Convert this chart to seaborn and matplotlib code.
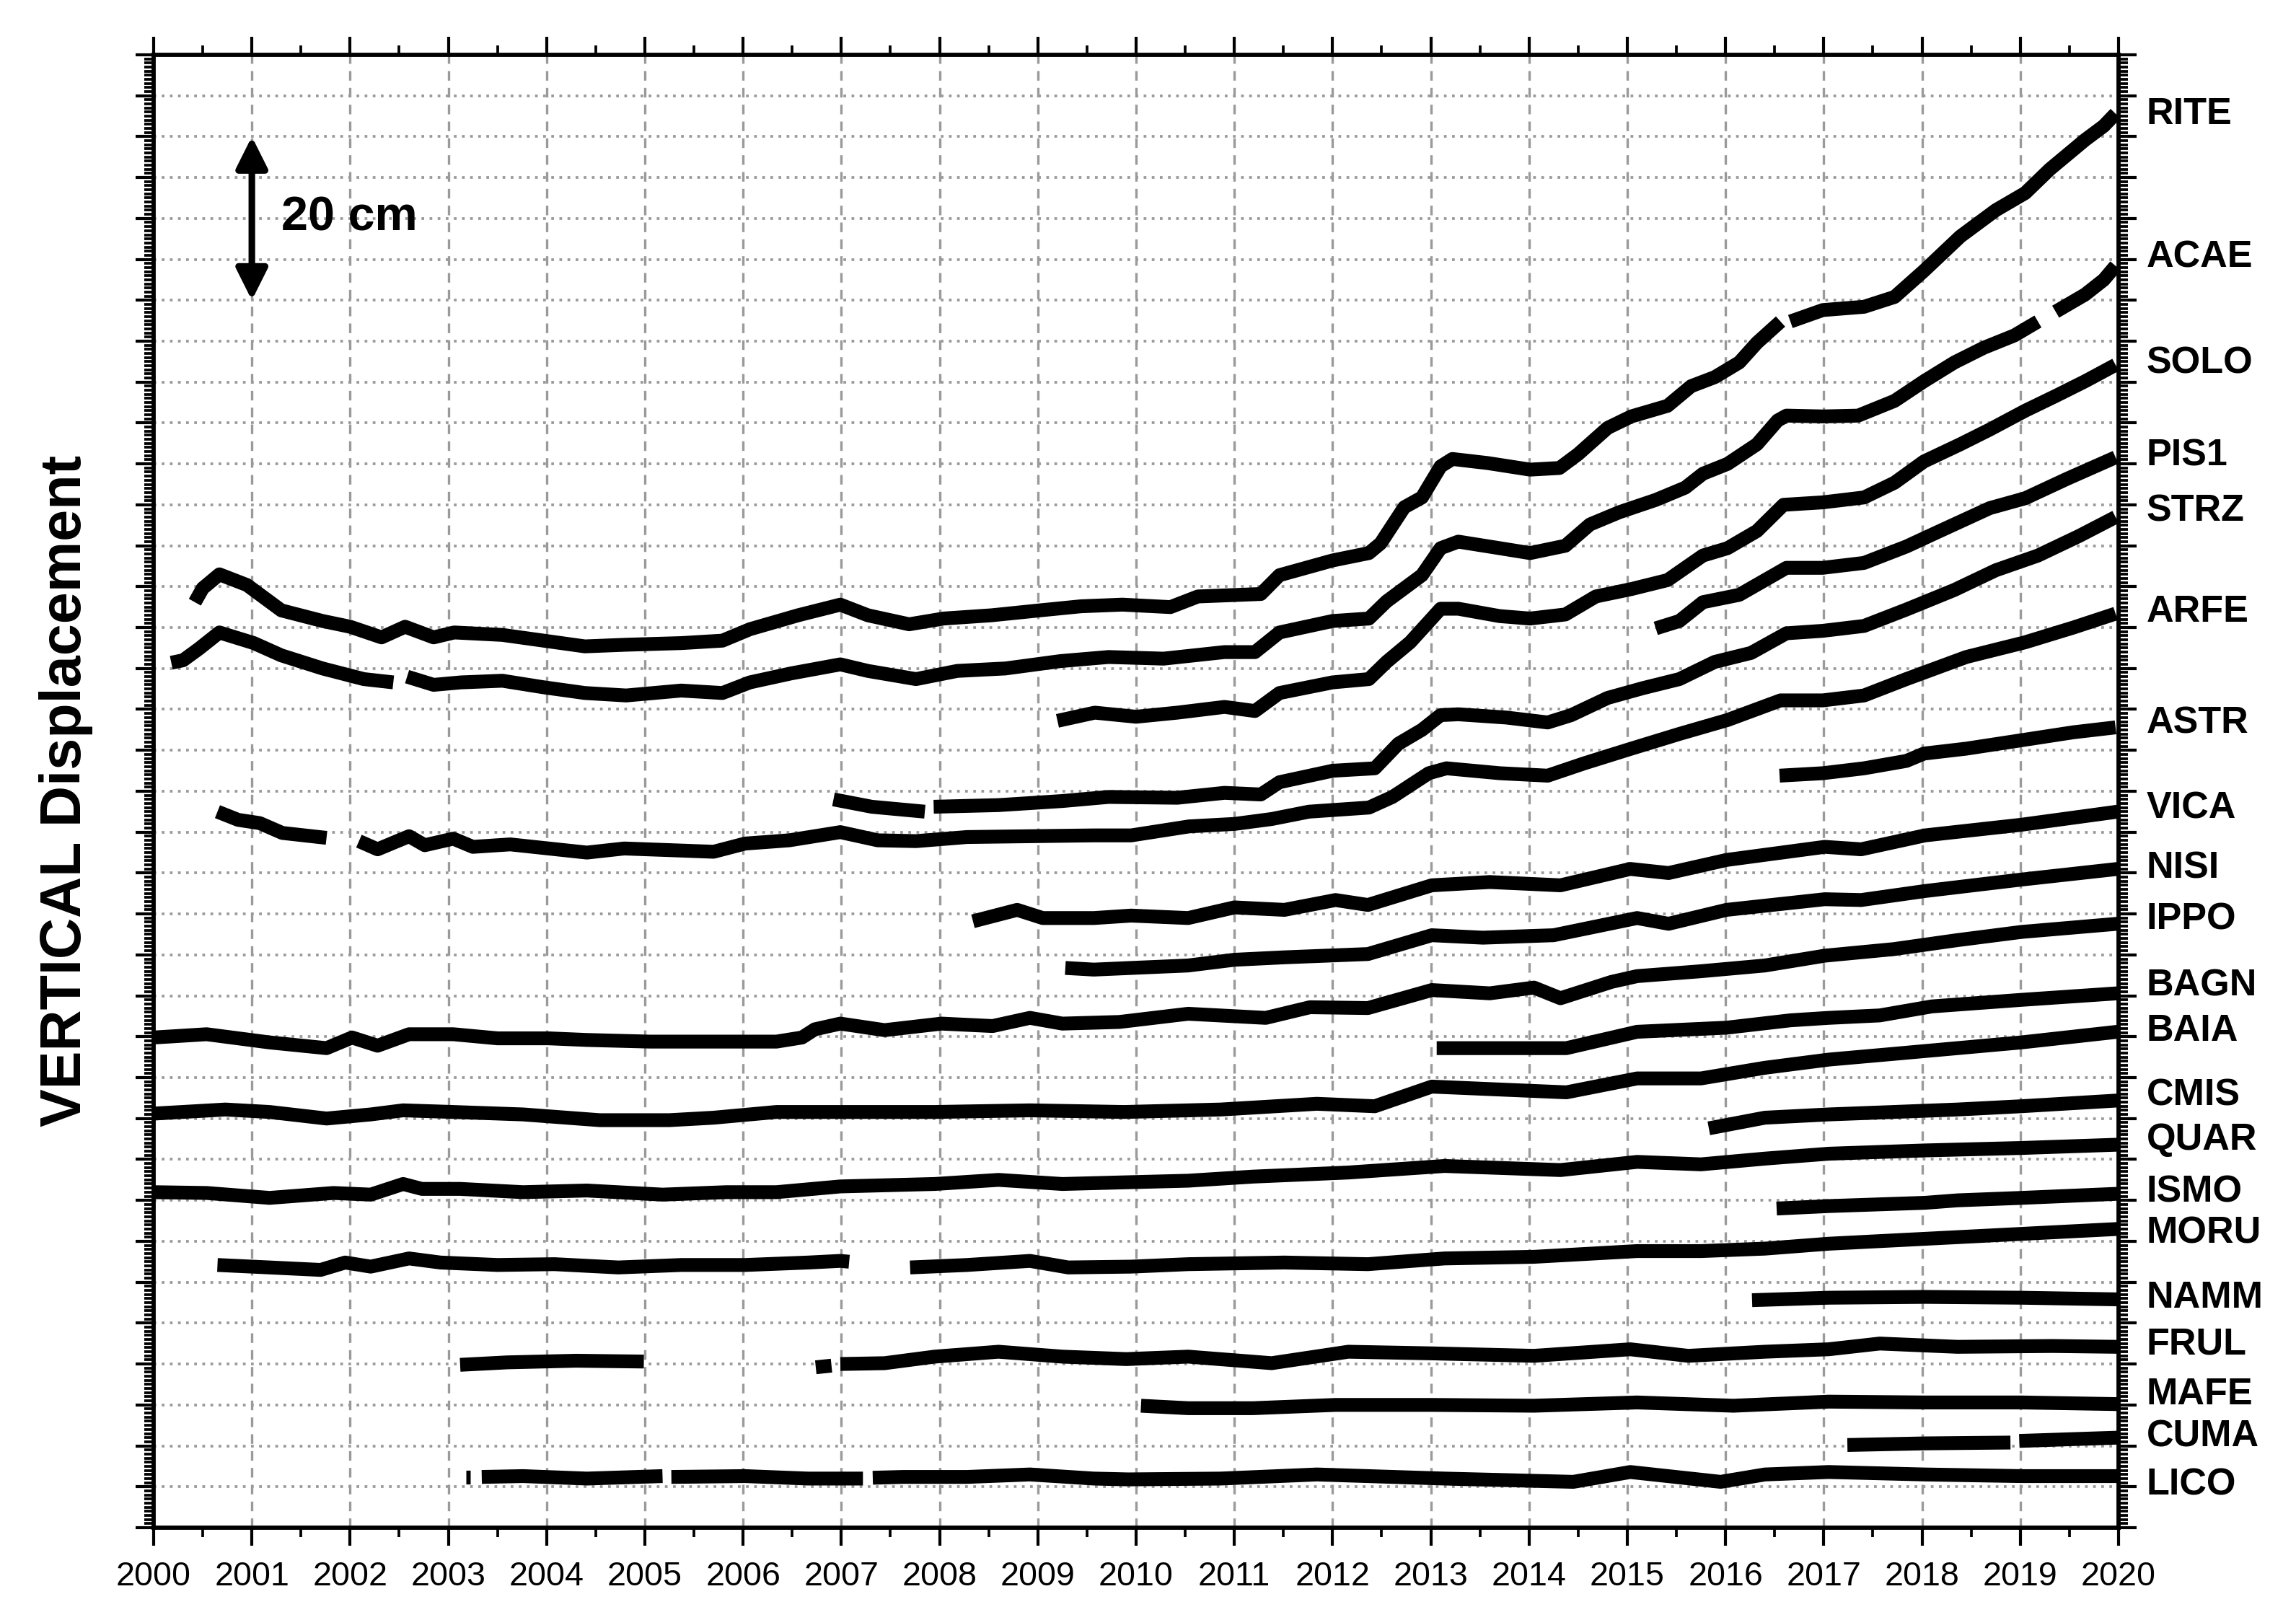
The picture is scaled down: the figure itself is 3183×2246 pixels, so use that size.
import matplotlib
matplotlib.use("Agg")
import matplotlib.pyplot as plt
import matplotlib.transforms as mtransforms
from matplotlib.ticker import MultipleLocator
import seaborn as sns
import pandas as pd

# station order (top -> bottom) and the level of the name tag on the right
stations = ["RITE", "ACAE", "SOLO", "PIS1", "STRZ", "ARFE", "ASTR", "VICA", "NISI", "IPPO",
            "BAGN", "BAIA", "CMIS", "QUAR", "ISMO", "MORU", "NAMM", "FRUL", "MAFE", "CUMA", "LICO"]
label_y = [172.7, 155.2, 142.3, 131.0, 124.2, 111.9, 98.3, 87.9, 80.6, 74.3,
           66.2, 60.7, 52.8, 47.4, 41.0, 36.0, 28.1, 22.4, 16.3, 11.1, 5.2]

# vertical position (cm, stacked with offsets); None = data gap
rite_t = [2000.42, 2000.5, 2000.67, 2000.95, 2001.3, 2001.72, 2002.0, 2002.32, 2002.56, 2002.85,
          2003.06, 2003.55, 2003.97, 2004.39, 2004.81, 2005.37, 2005.79, 2006.07, 2006.56, 2006.99,
          2007.27, 2007.69, 2008.04, 2008.53, 2009.02, 2009.44, 2009.86, 2010.35, 2010.63, 2011.27,
          2011.46, 2012.0, 2012.37, 2012.49, 2012.73, 2012.91, 2013.1, 2013.22, 2013.58, 2014.01,
          2014.31, 2014.5, 2014.8, 2015.04, 2015.41, 2015.65, 2015.89, 2016.14, 2016.32, 2016.56,
          None, 2016.66, 2016.99, 2017.41, 2017.72, 2018.02, 2018.39, 2018.75, 2019.05, 2019.3,
          2019.66, 2019.85, 2019.97]
rite_v = [113.1, 114.8, 116.5, 115.2, 112.1, 110.8, 110.1, 108.8, 110.1, 108.8,
          109.4, 109.1, 108.4, 107.7, 107.9, 108.1, 108.4, 109.8, 111.5, 112.8,
          111.5, 110.4, 111.1, 111.5, 112.1, 112.6, 112.8, 112.5, 113.8, 114.1,
          116.4, 118.2, 119.1, 120.3, 124.7, 125.9, 129.7, 130.6, 130.1, 129.3,
          129.5, 131.2, 134.4, 135.8, 137.1, 139.5, 140.6, 142.4, 144.8, 147.4,
          None, 147.4, 148.8, 149.2, 150.4, 153.6, 157.8, 161.0, 163.1, 166.0,
          169.6, 171.3, 172.8]

acae_t = [2000.18, 2000.3, 2000.46, 2000.67, 2001.02, 2001.3, 2001.72, 2002.14, 2002.44, None,
          2002.58, 2002.85, 2003.13, 2003.55, 2003.97, 2004.39, 2004.81, 2005.37, 2005.79, 2006.07,
          2006.49, 2006.99, 2007.27, 2007.76, 2008.18, 2008.67, 2009.23, 2009.72, 2010.28, 2010.9,
          2011.21, 2011.46, 2012.0, 2012.37, 2012.55, 2012.91, 2013.1, 2013.28, 2013.7, 2014.01,
          2014.37, 2014.62, 2014.92, 2015.29, 2015.59, 2015.77, 2016.02, 2016.32, 2016.53, 2016.62,
          2016.99, 2017.35, 2017.72, 2018.02, 2018.33, 2018.63, 2018.94, 2019.18, None, 2019.36,
          2019.66, 2019.85, 2019.97]
acae_v = [105.7, 106.0, 107.4, 109.4, 108.1, 106.6, 105.0, 103.7, 103.3, None,
          104.0, 103.0, 103.3, 103.5, 102.7, 102.0, 101.7, 102.3, 102.0, 103.3,
          104.4, 105.5, 104.7, 103.7, 104.7, 105.0, 105.9, 106.4, 106.2, 107.0,
          107.0, 109.4, 110.8, 111.1, 113.2, 116.4, 119.7, 120.5, 119.7, 119.1,
          120.0, 122.6, 124.1, 125.6, 127.1, 128.8, 130.0, 132.4, 135.3, 135.9,
          135.8, 135.9, 137.7, 140.1, 142.4, 144.2, 145.7, 147.4, None, 148.6,
          150.7, 152.5, 154.2]

solo_t = [2009.2, 2009.58, 2010.0, 2010.42, 2010.9, 2011.21, 2011.46, 2012.0, 2012.37, 2012.55,
          2012.79, 2013.1, 2013.28, 2013.7, 2014.01, 2014.37, 2014.68, 2015.04, 2015.41, 2015.77,
          2016.02, 2016.32, 2016.59, 2016.99, 2017.41, 2017.72, 2018.02, 2018.39, 2018.69, 2019.05,
          2019.36, 2019.66, 2019.97]
solo_v = [98.6, 99.6, 99.1, 99.6, 100.3, 99.8, 102.0, 103.3, 103.7, 105.8,
          108.2, 112.3, 112.3, 111.4, 111.1, 111.6, 113.8, 114.7, 115.8, 118.8,
          119.7, 121.8, 125.0, 125.3, 125.9, 127.7, 130.3, 132.4, 134.2, 136.5,
          138.3, 140.1, 142.1]

pis1_t = [2015.29, 2015.53, 2015.77, 2016.14, 2016.62, 2016.99, 2017.41, 2017.84, 2018.2, 2018.69,
          2019.05, 2019.48, 2019.97]
pis1_v = [109.9, 110.8, 113.1, 114.0, 117.3, 117.3, 117.9, 119.9, 121.9, 124.6,
          125.8, 128.2, 130.8]

strz_t = [2006.92, 2007.31, 2007.85, None, 2007.94, 2008.6, 2009.25, 2009.72, 2010.42, 2010.9,
          2011.27, 2011.46, 2012.0, 2012.43, 2012.67, 2012.91, 2013.1, 2013.28, 2013.77, 2014.19,
          2014.43, 2014.8, 2015.16, 2015.53, 2015.89, 2016.26, 2016.62, 2016.99, 2017.41, 2017.84,
          2018.33, 2018.75, 2019.18, 2019.6, 2019.97]
strz_v = [89.0, 88.1, 87.5, None, 88.1, 88.3, 88.8, 89.3, 89.2, 89.8,
          89.6, 91.1, 92.5, 92.8, 95.8, 97.5, 99.3, 99.4, 99.0, 98.4,
          99.3, 101.4, 102.6, 103.7, 105.8, 106.9, 109.3, 109.6, 110.2, 112.2,
          114.6, 117.0, 118.8, 121.2, 123.5]

arfe_t = [2000.65, 2000.86, 2001.08, 2001.31, 2001.76, None, 2002.09, 2002.28, 2002.6, 2002.76,
          2003.05, 2003.25, 2003.63, 2004.02, 2004.41, 2004.79, 2005.25, 2005.7, 2006.02, 2006.47,
          2006.99, 2007.37, 2007.76, 2008.28, 2008.92, 2009.57, 2009.95, 2010.54, 2011.0, 2011.38,
          2011.76, 2012.37, 2012.61, 2012.98, 2013.16, 2013.7, 2014.19, 2014.56, 2015.04, 2015.53,
          2016.02, 2016.56, 2016.99, 2017.41, 2017.84, 2018.45, 2019.05, 2019.54, 2019.97]
arfe_v = [87.5, 86.5, 86.1, 84.9, 84.3, None, 83.9, 82.9, 84.5, 83.4,
          84.2, 83.2, 83.5, 83.0, 82.5, 83.0, 82.8, 82.6, 83.6, 84.0,
          85.0, 84.0, 83.9, 84.4, 84.5, 84.6, 84.6, 85.7, 86.0, 86.6,
          87.5, 88.0, 89.3, 92.2, 92.8, 92.2, 91.9, 93.4, 95.2, 97.0,
          98.7, 101.1, 101.1, 101.7, 103.7, 106.4, 108.2, 110.0, 111.7]

astr_t = [2016.55, 2016.99, 2017.41, 2017.84, 2018.02, 2018.45, 2019.05, 2019.54, 2019.97]
astr_v = [91.9, 92.2, 92.8, 93.7, 94.6, 95.2, 96.3, 97.2, 97.8]

vica_t = [2008.34, 2008.79, 2009.05, 2009.57, 2009.95, 2010.53, 2011.0, 2011.51, 2012.03, 2012.36,
          2013.01, 2013.6, 2014.32, 2015.03, 2015.42, 2016.01, 2017.01, 2017.38, 2018.03, 2019.01,
          2019.99]
vica_v = [74.1, 75.5, 74.5, 74.5, 74.8, 74.5, 75.8, 75.5, 76.7, 76.1,
          78.5, 78.9, 78.5, 80.5, 80.0, 81.6, 83.2, 82.9, 84.6, 85.9,
          87.5]

nisi_t = [2009.28, 2009.57, 2009.95, 2010.53, 2011.0, 2011.51, 2012.36, 2013.01, 2013.53, 2014.25,
          2015.1, 2015.42, 2016.01, 2017.01, 2017.38, 2018.03, 2019.01, 2019.99]
nisi_v = [68.4, 68.2, 68.4, 68.7, 69.4, 69.7, 70.1, 72.4, 72.1, 72.4,
          74.5, 73.8, 75.5, 76.8, 76.7, 77.8, 79.2, 80.5]

ippo_t = [2000.0, 2000.54, 2001.18, 2001.76, 2002.02, 2002.28, 2002.6, 2003.05, 2003.5, 2004.02,
          2004.41, 2005.05, 2005.7, 2006.34, 2006.6, 2006.73, 2006.99, 2007.44, 2008.02, 2008.54,
          2008.92, 2009.25, 2009.83, 2010.53, 2011.32, 2011.77, 2012.36, 2013.01, 2013.6, 2014.05,
          2014.32, 2014.84, 2015.1, 2015.75, 2016.4, 2017.01, 2017.71, 2018.36, 2019.01, 2019.99]
ippo_v = [59.9, 60.3, 59.3, 58.6, 59.9, 58.9, 60.3, 60.3, 59.8, 59.8,
          59.6, 59.4, 59.4, 59.4, 59.9, 60.9, 61.6, 60.8, 61.6, 61.3,
          62.3, 61.6, 61.8, 62.8, 62.3, 63.6, 63.5, 65.7, 65.3, 66.0,
          64.7, 66.7, 67.4, 68.0, 68.7, 69.9, 70.7, 71.8, 72.8, 73.8]

bagn_t = [2013.06, 2013.47, 2014.38, 2015.1, 2016.01, 2016.66, 2017.05, 2017.57, 2018.1, 2019.01,
          2019.99]
bagn_v = [58.6, 58.6, 58.6, 60.6, 61.1, 62.0, 62.3, 62.6, 63.7, 64.5,
          65.3]

baia_t = [2000.0, 2000.73, 2001.18, 2001.76, 2002.21, 2002.54, 2003.05, 2003.76, 2004.54, 2005.25,
          2005.7, 2006.34, 2006.99, 2007.95, 2008.92, 2009.88, 2010.86, 2011.84, 2012.43, 2013.01,
          2013.79, 2014.38, 2015.1, 2015.75, 2016.4, 2017.05, 2017.71, 2018.36, 2019.01, 2019.99]
baia_v = [50.6, 51.1, 50.8, 50.0, 50.5, 51.0, 50.8, 50.5, 49.8, 49.8,
          50.1, 50.8, 50.8, 50.8, 51.0, 50.8, 51.1, 51.8, 51.5, 53.9,
          53.5, 53.2, 54.9, 54.9, 56.2, 57.2, 57.9, 58.6, 59.3, 60.6]

cmis_t = [2015.83, 2016.4, 2017.05, 2017.71, 2018.36, 2019.01, 2019.99]
cmis_v = [48.8, 50.1, 50.5, 50.8, 51.1, 51.5, 52.2]

quar_t = [2000.0, 2000.54, 2001.18, 2001.83, 2002.21, 2002.54, 2002.73, 2003.12, 2003.76, 2004.41,
          2005.18, 2005.83, 2006.34, 2006.99, 2007.95, 2008.6, 2009.25, 2009.88, 2010.53, 2011.19,
          2012.16, 2013.14, 2014.32, 2015.1, 2015.75, 2016.4, 2017.05, 2018.03, 2019.01, 2019.99]
quar_v = [41.0, 40.9, 40.3, 40.9, 40.7, 42.0, 41.4, 41.4, 41.0, 41.2,
          40.7, 41.0, 41.0, 41.7, 42.0, 42.5, 42.0, 42.2, 42.4, 42.9,
          43.4, 44.2, 43.7, 44.7, 44.4, 45.1, 45.7, 46.1, 46.4, 46.8]

ismo_t = [2016.52, 2017.05, 2018.03, 2018.36, 2019.01, 2019.99]
ismo_v = [39.0, 39.3, 39.7, 40.0, 40.3, 40.8]

moru_t = [2000.65, 2001.18, 2001.7, 2001.95, 2002.21, 2002.6, 2002.92, 2003.5, 2004.08, 2004.73,
          2005.37, 2006.02, 2006.66, 2006.99, 2007.08, None, 2007.7, 2008.28, 2008.92, 2009.31,
          2009.95, 2010.53, 2011.51, 2012.36, 2013.14, 2014.05, 2015.1, 2015.75, 2016.4, 2017.05,
          2018.03, 2019.01, 2019.99]
moru_v = [32.1, 31.8, 31.5, 32.4, 31.9, 32.9, 32.4, 32.1, 32.2, 31.8,
          32.1, 32.1, 32.4, 32.6, 32.5, None, 31.8, 32.1, 32.6, 31.8,
          31.9, 32.2, 32.4, 32.2, 32.9, 33.1, 33.8, 33.8, 34.1, 34.7,
          35.3, 35.9, 36.5]

namm_t = [2016.27, 2017.05, 2018.03, 2019.01, 2019.99]
namm_v = [27.8, 28.1, 28.2, 28.1, 27.9]

frul_t = [2003.12, 2003.6, 2004.3, 2004.99, None, 2006.74, 2006.9, None, 2006.99, 2007.44,
          2007.95, 2008.6, 2009.25, 2009.9, 2010.53, 2011.38, 2012.16, 2013.01, 2014.05, 2015.03,
          2015.62, 2016.4, 2017.05, 2017.57, 2018.36, 2019.33, 2019.99]
frul_v = [19.9, 20.2, 20.4, 20.3, None, 19.6, 19.8, None, 20.0, 20.1,
          20.9, 21.5, 20.9, 20.6, 20.9, 20.1, 21.5, 21.3, 21.0, 21.8,
          21.0, 21.5, 21.8, 22.5, 22.1, 22.2, 22.1]

mafe_t = [2010.05, 2010.53, 2011.19, 2012.03, 2013.01, 2014.05, 2015.1, 2016.08, 2017.05, 2018.03,
          2019.01, 2019.99]
mafe_v = [14.9, 14.6, 14.6, 15.0, 15.0, 14.9, 15.3, 14.9, 15.4, 15.3,
          15.3, 15.1]

cuma_t = [2017.24, 2018.03, 2018.9, None, 2018.99, 2019.99]
cuma_v = [10.1, 10.3, 10.4, None, 10.6, 11.0]

lico_t = [2003.18, 2003.22, None, 2003.34, 2003.76, 2004.41, 2005.18, None, 2005.27, 2006.02,
          2006.66, 2007.22, None, 2007.32, 2007.63, 2008.28, 2008.92, 2009.57, 2009.92, 2010.86,
          2011.84, 2013.14, 2014.45, 2015.03, 2015.95, 2016.4, 2017.05, 2018.03, 2019.01, 2019.99]
lico_v = [6.2, 6.2, None, 6.2, 6.3, 6.0, 6.3, None, 6.2, 6.3,
          6.0, 6.0, None, 6.1, 6.2, 6.2, 6.5, 6.0, 5.9, 6.0,
          6.5, 6.0, 5.6, 6.8, 5.6, 6.5, 6.8, 6.5, 6.3, 6.3]

series = [rite_t, acae_t, solo_t, pis1_t, strz_t, arfe_t, astr_t, vica_t, nisi_t, ippo_t,
          bagn_t, baia_t, cmis_t, quar_t, ismo_t, moru_t, namm_t, frul_t, mafe_t, cuma_t, lico_t]
values = [rite_v, acae_v, solo_v, pis1_v, strz_v, arfe_v, astr_v, vica_v, nisi_v, ippo_v,
          bagn_v, baia_v, cmis_v, quar_v, ismo_v, moru_v, namm_v, frul_v, mafe_v, cuma_v, lico_v]

# long table, one "seg" id per continuous piece so gaps stay open
rows = []
for name, ts, vs in zip(stations, series, values):
    seg = 0
    for t, v in zip(ts, vs):
        if t is None:
            seg += 1
            continue
        rows.append({'station': name, 'seg': f'{name}_{seg}', 'year': t, 'cm': v})
df = pd.DataFrame(rows)

sns.set_theme(style='white', rc={'text.color': 'black', 'xtick.color': 'black',
                                 'ytick.color': 'black', 'axes.labelcolor': 'black'})
plt.rcParams['font.family'] = ['Liberation Sans', 'DejaVu Sans']

fig = plt.figure(figsize=(3183 / 300, 2246 / 300), dpi=300)
ax = fig.add_axes([0.0669, 0.0570, 0.8558, 0.9092])

sns.lineplot(data=df, x='year', y='cm', units='seg', estimator=None, sort=False,
             color='black', linewidth=4.6, solid_capstyle='butt', legend=False, ax=ax)

ax.set_xlim(2000, 2020)
ax.set_ylim(0, 180)
ax.xaxis.set_major_locator(MultipleLocator(1))
ax.xaxis.set_minor_locator(MultipleLocator(0.5))
ax.yaxis.set_major_locator(MultipleLocator(5))
ax.yaxis.set_minor_locator(MultipleLocator(0.5))
ax.set_xticklabels([str(int(t)) for t in ax.get_xticks()])

ax.tick_params(which='both', direction='out', top=True, right=True, bottom=True, left=True,
               labelleft=False, color='black', labelcolor='black')
ax.tick_params(which='major', length=6.0, width=1.0, labelsize=11.2, pad=5.0)
ax.tick_params(which='minor', length=3.1, width=0.9)
for s in ax.spines.values():
    s.set_color('black')
    s.set_linewidth(1.4)

ax.set_axisbelow(True)
ax.grid(axis='x', which='major', color='#9a9a9a', linewidth=0.8, linestyle=(0, (4, 3)))
ax.grid(axis='y', which='major', color='#9a9a9a', linewidth=0.9, linestyle=(0, (1, 2)))
ax.set_xlabel('')
ax.set_ylabel('')

# scale bar
ax.annotate('', xy=(2001, 170), xytext=(2001, 150),
            arrowprops=dict(arrowstyle='<|-|>', color='black', lw=2.2,
                            mutation_scale=22, shrinkA=0, shrinkB=0))
ax.text(2001.3, 160, '20 cm', fontsize=16, fontweight='bold', ha='left', va='center',
        color='black')

# station names on the right
trans = mtransforms.blended_transform_factory(ax.transAxes, ax.transData)
for name, y in zip(stations, label_y):
    ax.text(1.0143, y, name, transform=trans, fontsize=12.5, fontweight='bold',
            ha='left', va='center', clip_on=False, color='black')

fig.text(0.0286, 0.5116, 'VERTICAL Displacement', rotation=90, fontsize=19,
         fontweight='bold', ha='center', va='center', color='black')

fig.savefig('out.png', dpi=300)
